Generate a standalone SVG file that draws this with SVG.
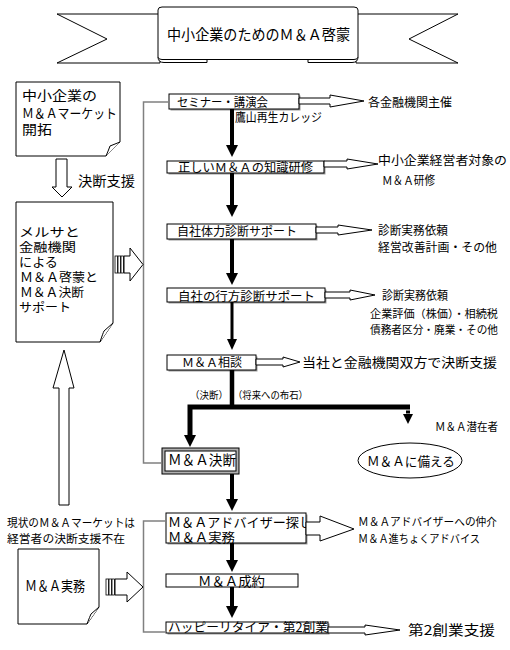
<svg xmlns="http://www.w3.org/2000/svg" width="510" height="650" viewBox="0 0 510 650">
<style>
text{font-family:"Noto Sans CJK JP","Noto Sans",sans-serif;fill:#000}
.ol{fill:#fff;stroke:#000;stroke-width:1}
.sh{fill:#9a9a9a}
.br{fill:none;stroke:#808080;stroke-width:1.5}
.thick{stroke:#000;stroke-width:4;fill:none}
.hd{fill:#000}
.ha{fill:#fff;stroke:#000;stroke-width:1;stroke-linejoin:miter}
</style>
<rect width="510" height="650" fill="#fff"/>

<g id="banner">
<polygon class="ol" points="57,14 160,14 160,63 57,63 107,39"/>
<polygon class="ol" points="458,14 356,14 356,63 458,63 409,39"/>
<path class="ol" d="M158,57 Q158,62.5 164,62.5 L207,62.5 L207,57 Z"/>
<path class="ol" d="M358,57 Q358,62.5 352,62.5 L308,62.5 L308,57 Z"/>
<path class="ol" d="M158,10 Q158,7 162,7 L354,7 Q358,7 358,10 L358,57 Q358,59.5 354,59.5 L162,59.5 Q158,59.5 158,57 Z"/>
<text x="167" y="40" font-size="15" textLength="183" lengthAdjust="spacingAndGlyphs">中小企業のためのＭ＆Ａ啓蒙</text>
</g>

<g id="note-market">
<path class="ol" d="M16,82 H120 V142 L106,156 H16 Z"/>
<path class="ol" d="M106,156 Q109,149 110,146 L120,142"/>
<text x="22" y="100" font-size="13" textLength="75" lengthAdjust="spacingAndGlyphs">中小企業の</text>
<text x="22" y="118" font-size="13" textLength="95" lengthAdjust="spacingAndGlyphs">Ｍ＆Ａマーケット</text>
<text x="22" y="134" font-size="13" textLength="30" lengthAdjust="spacingAndGlyphs">開拓</text>
</g>

<g id="note-support">
<path class="ol" d="M16,202 H113 V323 L100,342 H16 Z"/>
<path class="ol" d="M100,342 Q103,333 104,331 L113,323"/>
<text x="19" y="237" font-size="12.5" textLength="61" lengthAdjust="spacingAndGlyphs">メルサと</text>
<text x="19" y="251.5" font-size="12.5" textLength="57" lengthAdjust="spacingAndGlyphs">金融機関</text>
<text x="19" y="266.5" font-size="12.5" textLength="39" lengthAdjust="spacingAndGlyphs">による</text>
<text x="20" y="282" font-size="12.5" textLength="78" lengthAdjust="spacingAndGlyphs">Ｍ＆Ａ啓蒙と</text>
<text x="20" y="297" font-size="12.5" textLength="64" lengthAdjust="spacingAndGlyphs">Ｍ＆Ａ決断</text>
<text x="19" y="312" font-size="12.5" textLength="52" lengthAdjust="spacingAndGlyphs">サポート</text>
</g>

<g id="note-practice">
<path class="ol" d="M18,549 H99 V607 L87,624 H18 Z"/>
<path class="ol" d="M87,624 Q90,616 91,614 L99,607"/>
<text x="25" y="591" font-size="14" textLength="60" lengthAdjust="spacingAndGlyphs">Ｍ＆Ａ実務</text>
</g>

<g id="label-status">
<text x="7" y="526.5" font-size="11.5" textLength="128" lengthAdjust="spacingAndGlyphs">現状のＭ＆Ａマーケットは</text>
<text x="7" y="542.5" font-size="11.5" textLength="118" lengthAdjust="spacingAndGlyphs">経営者の決断支援不在</text>
</g>

<g id="seminar">
<rect class="sh" x="170.5" y="95.5" width="130" height="15"/>
<rect class="ol" x="169" y="94" width="130" height="15"/>
<text x="177" y="106.5" font-size="12" textLength="91" lengthAdjust="spacingAndGlyphs">セミナー・講演会</text>
</g>
<g id="label-college">
<text x="235" y="121.5" font-size="12" textLength="87" lengthAdjust="spacingAndGlyphs">鷹山再生カレッジ</text>
</g>
<g id="training">
<rect class="sh" x="168.5" y="162.5" width="157" height="12"/>
<rect class="ol" x="167" y="161" width="157" height="12"/>
<text x="178" y="171.5" font-size="12" textLength="135" lengthAdjust="spacingAndGlyphs">正しいＭ＆Ａの知識研修</text>
</g>
<g id="strength">
<rect class="sh" x="168.5" y="225.5" width="149" height="15"/>
<rect class="ol" x="167" y="224" width="149" height="15"/>
<text x="177" y="236" font-size="12" textLength="120" lengthAdjust="spacingAndGlyphs">自社体力診断サポート</text>
</g>
<g id="future">
<rect class="sh" x="168.5" y="289.5" width="158" height="14"/>
<rect class="ol" x="167" y="288" width="158" height="14"/>
<text x="178" y="300.5" font-size="12" textLength="137" lengthAdjust="spacingAndGlyphs">自社の行方診断サポート</text>
</g>
<g id="consult">
<rect class="sh" x="168.5" y="356.5" width="89" height="15"/>
<rect class="ol" x="167" y="355" width="89" height="15"/>
<text x="182" y="366.5" font-size="12" textLength="60" lengthAdjust="spacingAndGlyphs">Ｍ＆Ａ相談</text>
</g>
<g id="decision">
<rect x="162" y="448" width="77" height="26" fill="#b0b0b0" stroke="#000" stroke-width="1"/>
<rect class="ol" x="165" y="451" width="71" height="20"/>
<text x="168" y="465" font-size="14" textLength="68" lengthAdjust="spacingAndGlyphs">Ｍ＆Ａ決断</text>
</g>
<g id="prepare">
<ellipse class="ol" cx="410" cy="460.5" rx="52" ry="17.5"/>
<text x="367" y="465.5" font-size="13" textLength="88" lengthAdjust="spacingAndGlyphs">Ｍ＆Ａに備える</text>
</g>
<g id="advisor">
<rect class="sh" x="167.5" y="514.5" width="140" height="30"/>
<rect class="ol" x="166" y="513" width="140" height="30"/>
<text x="168" y="527" font-size="13" textLength="144" lengthAdjust="spacingAndGlyphs">Ｍ＆Ａアドバイザー探し</text>
<text x="168" y="542" font-size="13" textLength="67" lengthAdjust="spacingAndGlyphs">Ｍ＆Ａ実務</text>
</g>
<g id="contract">
<rect class="ol" x="166" y="574" width="132" height="13"/>
<text x="198" y="586" font-size="13" textLength="67" lengthAdjust="spacingAndGlyphs">Ｍ＆Ａ成約</text>
</g>
<g id="retire">
<rect class="sh" x="167.5" y="623.5" width="162" height="11"/>
<rect class="ol" x="166" y="622" width="162" height="11"/>
<text x="168" y="632" font-size="12.5" textLength="160" lengthAdjust="spacingAndGlyphs">ハッピーリタイア・第2創業</text>
</g>

<g id="labels-right">
<text x="368" y="107" font-size="12" textLength="84" lengthAdjust="spacingAndGlyphs">各金融機関主催</text>
<text x="378" y="165" font-size="12.5" textLength="129" lengthAdjust="spacingAndGlyphs">中小企業経営者対象の</text>
<text x="382" y="184.5" font-size="12" textLength="53" lengthAdjust="spacingAndGlyphs">Ｍ＆Ａ研修</text>
<text x="378" y="234.5" font-size="12" textLength="70" lengthAdjust="spacingAndGlyphs">診断実務依頼</text>
<text x="378" y="251.5" font-size="12" textLength="119" lengthAdjust="spacingAndGlyphs">経営改善計画・その他</text>
<text x="382" y="299.5" font-size="12" textLength="66" lengthAdjust="spacingAndGlyphs">診断実務依頼</text>
<text x="370" y="317.5" font-size="11" textLength="128" lengthAdjust="spacingAndGlyphs">企業評価（株価）・相続税</text>
<text x="370" y="333.5" font-size="11" textLength="128" lengthAdjust="spacingAndGlyphs">債務者区分・廃業・その他</text>
<text x="302" y="367" font-size="13" textLength="195" lengthAdjust="spacingAndGlyphs">当社と金融機関双方で決断支援</text>
<text x="190" y="398.5" font-size="10" textLength="38" lengthAdjust="spacingAndGlyphs">（決断）</text>
<text x="233" y="398.5" font-size="10" textLength="75" lengthAdjust="spacingAndGlyphs">（将来への布石）</text>
<text x="435" y="431" font-size="11" textLength="63" lengthAdjust="spacingAndGlyphs">Ｍ＆Ａ潜在者</text>
<text x="358" y="526" font-size="11" textLength="139" lengthAdjust="spacingAndGlyphs">Ｍ＆Ａアドバイザーへの仲介</text>
<text x="358" y="543" font-size="11" textLength="122" lengthAdjust="spacingAndGlyphs">Ｍ＆Ａ進ちょくアドバイス</text>
<text x="408" y="635" font-size="13.5" textLength="87" lengthAdjust="spacingAndGlyphs">第2創業支援</text>
<text x="78" y="186" font-size="13.5" textLength="57" lengthAdjust="spacingAndGlyphs">決断支援</text>
</g>

<g id="connectors">
<path class="br" d="M169,102 H143.5 V463 H162"/>
<path class="br" d="M166,521 H143.5 V632 H166"/>
<polygon class="ha" points="56,159 67,159 67,187 72,187 62,197 52,187 56,187"/>
<polygon class="ha" points="64,350 74,388 69,388 69,505 59,505 59,388 53,388"/>
<g fill="#fff" stroke="#000" stroke-width="0.8">
<rect x="115" y="256" width="2.5" height="17"/><rect x="118" y="256" width="2.5" height="17"/><rect x="121" y="256" width="2.5" height="17"/>
<rect x="106" y="579" width="2.5" height="16"/><rect x="109" y="579" width="2.5" height="16"/><rect x="112" y="579" width="2.5" height="16"/>
</g>
<polygon class="ha" points="124,256 130,256 130,248 143,264.5 130,281 130,273 124,273"/>
<polygon class="ha" points="115,579 127,579 127,572 143,587 127,602 127,595 115,595"/>
<polygon class="ha" points="299,98 330,98 330,95 364,101 330,107 330,104 299,104"/>
<polygon class="ha" points="324,161 347,161 347,159 378,164 347,169 347,167 324,167"/>
<polygon class="ha" points="316,227 338,227 338,225 372,230 338,235 338,233 316,233"/>
<polygon class="ha" points="325,292 350,292 350,290 375,295 350,300 350,298 325,298"/>
<polygon class="ha" points="256,359 283,359 283,357 300,362 283,367 283,365 256,365"/>
<polygon class="ha" points="306,522 320,522 320,516 354,529 320,541 320,535 306,535"/>
<polygon class="ha" points="328,627 365,627 365,625 400,630 365,635 365,633 328,633"/>
<line class="thick" x1="232" y1="109" x2="232" y2="146"/><polygon class="hd" points="226,145 238,145 232,157"/>
<line class="thick" x1="232" y1="173" x2="232" y2="206"/><polygon class="hd" points="226,205 238,205 232,217"/>
<line class="thick" x1="232" y1="239" x2="232" y2="274"/><polygon class="hd" points="226,273 238,273 232,285"/>
<line x1="232" y1="302" x2="232" y2="340" stroke="#000" stroke-width="3"/><polygon class="hd" points="227,339 237,339 232,350"/>
<line x1="232" y1="370" x2="232" y2="409" stroke="#000" stroke-width="4.5"/>
<polyline points="190,436 190,407 410,407" fill="none" stroke="#000" stroke-width="5"/>
<polygon class="hd" points="184,435 196,435 190,447"/>
<line x1="408" y1="405" x2="408" y2="416" stroke="#000" stroke-width="4" stroke-dasharray="3,2.5"/>
<polygon class="hd" points="403,414 413,414 408,424"/>
<line class="thick" x1="232" y1="474" x2="232" y2="500"/><polygon class="hd" points="226,499 238,499 232,511"/>
<line class="thick" x1="232" y1="543" x2="232" y2="561"/><polygon class="hd" points="226,560 238,560 232,572"/>
<line class="thick" x1="232" y1="587" x2="232" y2="607"/><polygon class="hd" points="226,606 238,606 232,618"/>
</g>
</svg>
